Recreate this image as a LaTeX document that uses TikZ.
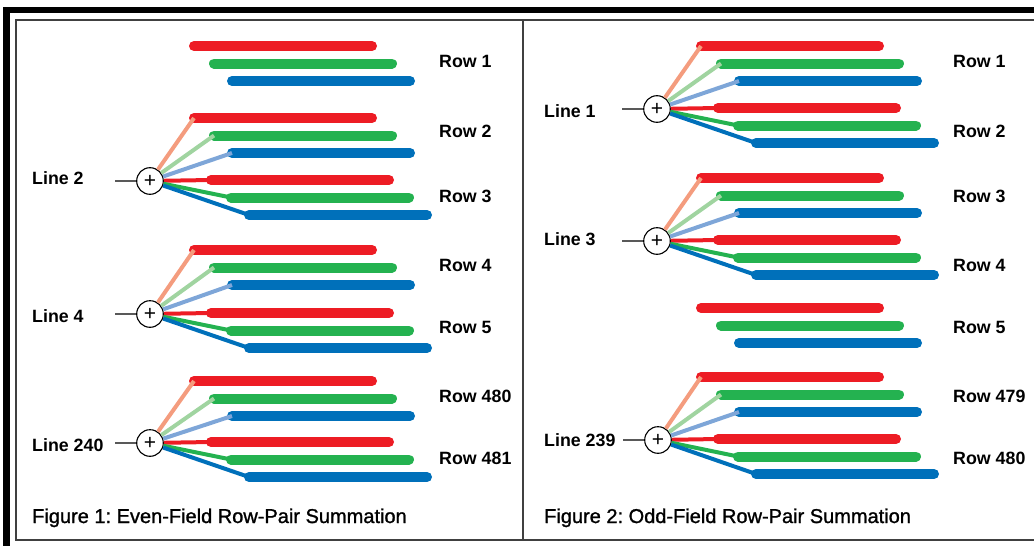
\documentclass[tikz,border=0pt]{standalone}
\usepackage{fontspec}
\setmainfont{Liberation Sans}
\newfontfamily\captfont[FakeBold=1.2]{Liberation Sans}
\usetikzlibrary{calc}
\frenchspacing

\definecolor{barred}{RGB}{237,28,36}
\definecolor{bargreen}{RGB}{36,178,80}
\definecolor{barblue}{RGB}{0,112,186}
\definecolor{fanred}{RGB}{244,156,126}
\definecolor{fangreen}{RGB}{160,212,160}
\definecolor{fanblue}{RGB}{126,166,216}

% one set of three row bars: name, left end, y of the red bar
\newcommand{\rowset}[3]{%
  \coordinate (#1r) at (#2+5,#3);
  \coordinate (#1g) at (#2+25,#3+17.5);
  \coordinate (#1b) at (#2+43,#3+35);
  \draw [bar,barred]   (#1r) -- ++(178,0);
  \draw [bar,bargreen] (#1g) -- ++(178,0);
  \draw [bar,barblue]  (#1b) -- ++(178,0);
}

\begin{document}
\begin{tikzpicture}[x=1pt,y=-1pt,
    bar/.style={line width=10,line cap=round},
    fan/.style={line width=4},
    feed/.style={line width=1.3,black!65},
    adder/.style={circle,draw,fill=white,line width=1.1,minimum size=26.6,inner sep=0,
      font=\fontsize{21}{21}\selectfont},
    lbl/.style={anchor=base west,inner sep=0,font=\bfseries\fontsize{17.8}{20}\selectfont},
    capt/.style={anchor=base west,inner sep=0,font=\captfont\fontsize{20}{22}\selectfont},
    frame/.style={line width=1.5,black!75}]
    \useasboundingbox (0,0) rectangle (1034,546);

    % border
    \fill [black] (3,7) rectangle (1034,13);
    \fill [black] (3,7) rectangle (10,546);
    \draw [frame] (1034,20) -- (16,20) -- (16,540) -- (1034,540);
    \draw [frame] (523,20) -- (523,540);

    % even field
    \rowset{L0}{189}{46}
    \rowset{L1}{189}{118}
    \rowset{L2}{206}{180}
    \rowset{L3}{189}{250}
    \rowset{L4}{206}{313}
    \rowset{L5}{189}{381}
    \rowset{L6}{206}{442}

    % odd field
    \rowset{R0}{696}{46}
    \rowset{R1}{713}{108}
    \rowset{R2}{696}{178}
    \rowset{R3}{713}{240}
    \rowset{R4}{696}{308}
    \rowset{R5}{696}{377}
    \rowset{R6}{713}{439}

    \node [adder] (add2)   at (150,181) {+};
    \node [adder] (add4)   at (150,314) {+};
    \node [adder] (add240) at (150,443) {+};
    \node [adder] (add1)   at (657,109) {+};
    \node [adder] (add3)   at (657,241) {+};
    \node [adder] (add239) at (658,440) {+};

    \coordinate (in2)   at (115,181);
    \coordinate (in4)   at (115,314);
    \coordinate (in240) at (115,443);
    \coordinate (in1)   at (622,109);
    \coordinate (in3)   at (622,241);
    \coordinate (in239) at (623,440);

    \draw [feed] (in2) -- (add2);
    \draw [feed] (in4) -- (add4);
    \draw [feed] (in240) -- (add240);
    \draw [feed] (in1) -- (add1);
    \draw [feed] (in3) -- (add3);
    \draw [feed] (in239) -- (add239);

    \draw [fan,fanred] (add2) -- (L1r);
    \draw [fan,fangreen] (add2) -- (L1g);
    \draw [fan,fanblue] (add2) -- (L1b);
    \draw [fan,barred] (add2) -- (L2r);
    \draw [fan,bargreen] (add2) -- (L2g);
    \draw [fan,barblue] (add2) -- (L2b);

    \draw [fan,fanred] (add4) -- (L3r);
    \draw [fan,fangreen] (add4) -- (L3g);
    \draw [fan,fanblue] (add4) -- (L3b);
    \draw [fan,barred] (add4) -- (L4r);
    \draw [fan,bargreen] (add4) -- (L4g);
    \draw [fan,barblue] (add4) -- (L4b);

    \draw [fan,fanred] (add240) -- (L5r);
    \draw [fan,fangreen] (add240) -- (L5g);
    \draw [fan,fanblue] (add240) -- (L5b);
    \draw [fan,barred] (add240) -- (L6r);
    \draw [fan,bargreen] (add240) -- (L6g);
    \draw [fan,barblue] (add240) -- (L6b);

    \draw [fan,fanred] (add1) -- (R0r);
    \draw [fan,fangreen] (add1) -- (R0g);
    \draw [fan,fanblue] (add1) -- (R0b);
    \draw [fan,barred] (add1) -- (R1r);
    \draw [fan,bargreen] (add1) -- (R1g);
    \draw [fan,barblue] (add1) -- (R1b);

    \draw [fan,fanred] (add3) -- (R2r);
    \draw [fan,fangreen] (add3) -- (R2g);
    \draw [fan,fanblue] (add3) -- (R2b);
    \draw [fan,barred] (add3) -- (R3r);
    \draw [fan,bargreen] (add3) -- (R3g);
    \draw [fan,barblue] (add3) -- (R3b);

    \draw [fan,fanred] (add239) -- (R5r);
    \draw [fan,fangreen] (add239) -- (R5g);
    \draw [fan,fanblue] (add239) -- (R5b);
    \draw [fan,barred] (add239) -- (R6r);
    \draw [fan,bargreen] (add239) -- (R6g);
    \draw [fan,barblue] (add239) -- (R6b);

    % labels
    \node [lbl] (lrow1)   at (439,67.4)  {Row 1};
    \node [lbl] (lrow2)   at (439,137.4) {Row 2};
    \node [lbl] (lrow3)   at (439,202.4) {Row 3};
    \node [lbl] (lrow4)   at (439,271.4) {Row 4};
    \node [lbl] (lrow5)   at (439,333.4) {Row 5};
    \node [lbl] (lrow480) at (439,402.4) {Row 480};
    \node [lbl] (lrow481) at (439,464.4) {Row 481};

    \node [lbl] (rrow1)   at (953,67.4)  {Row 1};
    \node [lbl] (rrow2)   at (953,137.4) {Row 2};
    \node [lbl] (rrow3)   at (953,202.4) {Row 3};
    \node [lbl] (rrow4)   at (953,271.4) {Row 4};
    \node [lbl] (rrow5)   at (953,333.4) {Row 5};
    \node [lbl] (rrow479) at (953,402.4) {Row 479};
    \node [lbl] (rrow480) at (953,464.4) {Row 480};

    \node [lbl] (line2)   at (32,184.4) {Line 2};
    \node [lbl] (line4)   at (32,322.4) {Line 4};
    \node [lbl] (line240) at (32,451.4) {Line 240};
    \node [lbl] (line1)   at (544,117.4) {Line 1};
    \node [lbl] (line3)   at (544,245.4) {Line 3};
    \node [lbl] (line239) at (544,446.4) {Line 239};

    \node [capt] (figeven) at (32,523)  {Figure 1: Even-Field Row-Pair Summation};
    \node [capt] (figodd)  at (544,523) {Figure 2: Odd-Field Row-Pair Summation};
\end{tikzpicture}
\end{document}
